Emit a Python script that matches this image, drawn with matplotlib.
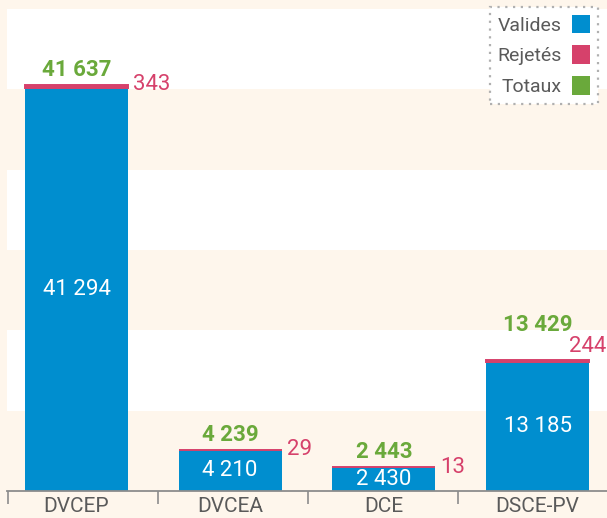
import numpy as np
import matplotlib
matplotlib.use("Agg")
import matplotlib.pyplot as plt
from matplotlib.patches import Patch, Rectangle

# data
categories = ["DVCEP", "DVCEA", "DCE", "DSCE-PV"]
valides = [41294, 4210, 2430, 13185]
rejetes = [343, 29, 13, 244]
totaux = [41637, 4239, 2443, 13429]
legend_labels = ["Valides", "Rejetés", "Totaux"]


def fmt(v):
  # french thousands separator (space)
  return f"{v:,}".replace(",", " ")


BLUE = "#008ECF"
RED = "#D6416B"
GREEN = "#6AA93B"
CREAM = "#FEF6EC"
GREY_TXT = "#5a5a5a"
GREY_LINE = "#8c8c8c"

plt.rcParams['font.family'] = ['Roboto', 'DejaVu Sans']

W, H = 607, 518
DPI = 100
PX = 72.0 / DPI  # points per pixel

width = 0.67
index = np.arange(len(categories))
NUM_SIZE = 16


def main():
  fig = plt.figure(figsize=(W / DPI, H / DPI), dpi=DPI, facecolor=CREAM)
  ax = fig.add_axes([7 / W, 27 / H, 600 / W, 482 / H])
  ax.set_facecolor(CREAM)
  ax.set_xlim(-0.452, 3.452)
  ax.set_ylim(0, 49400)

  # white horizontal bands
  for k in (1, 3, 5):
    ax.add_patch(Rectangle((0, k / 6), 1, 1 / 6, transform=ax.transAxes,
                           facecolor="white", edgecolor="none", zorder=0))

  bars_v = ax.bar(index, valides, width, color=BLUE, zorder=2)
  ax.bar(index, rejetes, width, bottom=valides, color=RED,
         edgecolor=RED, linewidth=1.4, zorder=3)

  ax.bar_label(bars_v, labels=[fmt(v) for v in valides], label_type="center",
               color="white", fontsize=NUM_SIZE, zorder=5)

  n = len(categories)
  for i in range(n):
    right = index[i] + width / 2
    room_right = i < n - 1
    if room_right:
      ax.annotate(fmt(rejetes[i]), (right, totaux[i]), xytext=(5 * PX, 0),
                  textcoords="offset points", ha="left", va="center",
                  color=RED, fontsize=NUM_SIZE, annotation_clip=False)
      dy = 15
    else:
      # no room on the right of the last bar: put it above
      ax.annotate(fmt(rejetes[i]), (right, totaux[i]), xytext=(-20 * PX, 3 * PX),
                  textcoords="offset points", ha="left", va="bottom",
                  color=RED, fontsize=NUM_SIZE, annotation_clip=False)
      dy = 35
    ax.annotate(fmt(totaux[i]), (index[i], totaux[i]), xytext=(0, dy * PX),
                textcoords="offset points", ha="center", va="center",
                color=GREEN, fontsize=NUM_SIZE, fontweight="bold", annotation_clip=False)

  for s in ("top", "left", "right"):
    ax.spines[s].set_visible(False)
  ax.spines["bottom"].set_color(GREY_LINE)
  ax.spines["bottom"].set_linewidth(1.3)
  ax.spines["bottom"].set_zorder(6)

  ax.set_yticks([])
  ax.set_xticks(index)
  ax.set_xticklabels(categories, fontsize=15, color=GREY_TXT)
  ax.tick_params(axis="x", which="major", length=0, pad=4.5)
  ax.set_xticks([-0.446, 0.530, 1.506, 2.482], minor=True)
  ax.tick_params(axis="x", which="minor", length=13 * PX, width=1.2,
                 color=GREY_LINE, direction="out")

  handles = [Patch(facecolor=BLUE), Patch(facecolor=RED), Patch(facecolor=GREEN)]
  leg = fig.legend(handles, legend_labels, loc="upper right",
                   bbox_to_anchor=(598 / W, 1 - 7 / H), bbox_transform=fig.transFigure,
                   borderaxespad=0, markerfirst=False, fontsize=14,
                   handlelength=0.95, handleheight=1.1, handletextpad=0.5,
                   labelspacing=0.55, borderpad=0.4, fancybox=False,
                   framealpha=1, facecolor="white", edgecolor="#b0b0b0")
  leg.get_frame().set_linestyle((0, (1, 2.5)))
  leg.get_frame().set_linewidth(1.6)
  for t in leg.get_texts():
    t.set_color(GREY_TXT)

  fig.savefig("out.png", dpi=DPI, facecolor=CREAM)
  plt.close()


if __name__ == "__main__":
  main()
